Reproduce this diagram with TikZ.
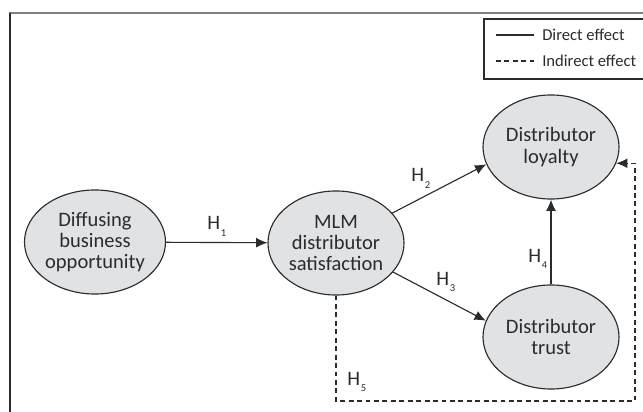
\documentclass[tikz,border=0pt]{standalone}
\usepackage{fontspec}
\setmainfont{Carlito}
\usetikzlibrary{shapes.geometric,arrows.meta}
\definecolor{ovalfill}{HTML}{E1E2E4}
\definecolor{inkgray}{HTML}{2B2B2B}
\newcommand{\hyp}[1]{H\kern0.6pt\raisebox{-4.5pt}{\fontsize{7.5}{7.5}\selectfont #1}}

\begin{document}
\begin{tikzpicture}[x=0.025cm,y=-0.025cm,>={Latex[length=8pt,width=7pt]},
  construct/.style={ellipse,draw=inkgray,fill=ovalfill,line width=0.8pt,minimum width=3.4cm,minimum height=2.6cm,inner sep=0pt,align=center,text=inkgray,font=\fontsize{14.6}{15}\selectfont},
  direct/.style={->,line width=0.8pt,draw=inkgray},
  indirect/.style={direct,dash pattern=on 3.5pt off 2.5pt},
  hlabel/.style={anchor=base west,inner sep=0pt,text=inkgray,font=\fontsize{14.6}{15}\selectfont},
  legendtext/.style={anchor=west,inner sep=0pt,text=inkgray,font=\fontsize{11.8}{13}\selectfont}]
\useasboundingbox (0,0) rectangle (643,412);
\draw[line width=1.4pt,gray] (9,13) -- (643,13);
\draw[line width=1.4pt,inkgray] (10,13) -- (10,412);

\draw[line width=0.8pt,inkgray] (484,19) rectangle (648,79);
\coordinate (da) at (496,35);
\coordinate (db) at (534,35);
\coordinate (ia) at (496,61);
\coordinate (ib) at (534,61);
\draw[line width=0.8pt,inkgray] (da) -- (db);
\draw[line width=0.8pt,inkgray,dash pattern=on 3.5pt off 2.5pt] (ia) -- (ib);
\node[legendtext] (dtext) at (542,35) {Direct effect};
\node[legendtext] (itext) at (542,61) {Indirect effect};

\node[construct] (diffuse) at (95,242) {Diffusing\\business\\opportunity};
\node[construct] (satis) at (336,243) {MLM\\distributor\\satisfaction};
\node[construct] (loyal) at (551,147) {Distributor\\loyalty};
\node[construct] (trust) at (551,337) {Distributor\\trust};

\draw[direct] (diffuse) -- (satis);
\draw[direct] (satis.28) -- (loyal.195);
\draw[direct] (satis.-27) -- (trust.166);
\draw[direct] (trust) -- (loyal);
\coordinate (dcorner) at (635,401);
\draw[indirect] (satis.south) |- (dcorner) |- (loyal.-14);

\node[hlabel] (h1) at (207,230) {\hyp{1}};
\node[hlabel] (h2) at (411,182) {\hyp{2}};
\node[hlabel] (h3) at (436,285) {\hyp{3}};
\node[hlabel] (h4) at (528,262) {\hyp{4}};
\node[hlabel] (h5) at (347,385) {\hyp{5}};
\end{tikzpicture}
\end{document}
